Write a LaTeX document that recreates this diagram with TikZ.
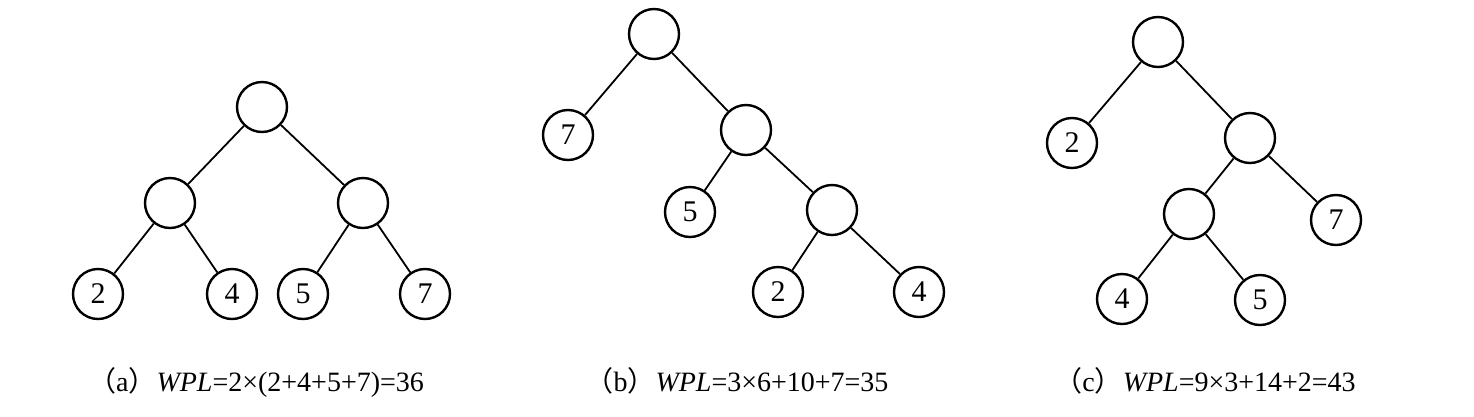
\documentclass[tikz,border=0pt]{standalone}
\usepackage{fontspec}
\setmainfont{Liberation Serif}
\newfontfamily\cjk{Noto Sans CJK SC}
\begin{document}
\begin{tikzpicture}[x=1pt, y=-1pt,
    nd/.style={circle, draw, line width=2.4pt, minimum size=50pt, inner sep=0pt, font=\fontsize{30}{32}\selectfont},
    edge/.style={line width=1.8pt},
    captxt/.style={font=\fontsize{28}{32}\selectfont, anchor=base}]
    \useasboundingbox (0,0) rectangle (1474,416);
    \node[nd] (ar) at (262,107) {};
    \node[nd] (al) at (170,203) {};
    \node[nd] (aR) at (363,203) {};
    \node[nd] (a2) at (98,294) {2};
    \node[nd] (a4) at (232,294) {4};
    \node[nd] (a5) at (303,294) {5};
    \node[nd] (a7) at (425,294) {7};
    \draw[edge] (ar)--(al);
    \draw[edge] (ar)--(aR);
    \draw[edge] (al)--(a2);
    \draw[edge] (al)--(a4);
    \draw[edge] (aR)--(a5);
    \draw[edge] (aR)--(a7);
    \node[nd] (br) at (654,34) {};
    \node[nd] (b7) at (568,135) {7};
    \node[nd] (b1) at (746,130) {};
    \node[nd] (b5) at (690,212) {5};
    \node[nd] (b3) at (832,210) {};
    \node[nd] (b2) at (778,292) {2};
    \node[nd] (b4) at (919,292) {4};
    \draw[edge] (br)--(b7);
    \draw[edge] (br)--(b1);
    \draw[edge] (b1)--(b5);
    \draw[edge] (b1)--(b3);
    \draw[edge] (b3)--(b2);
    \draw[edge] (b3)--(b4);
    \node[nd] (cr) at (1158,42) {};
    \node[nd] (c2) at (1072,143) {2};
    \node[nd] (c1) at (1250,138) {};
    \node[nd] (c3) at (1189,214) {};
    \node[nd] (c7) at (1336,220) {7};
    \node[nd] (c4) at (1122,299) {4};
    \node[nd] (c5) at (1260,300) {5};
    \draw[edge] (cr)--(c2);
    \draw[edge] (cr)--(c1);
    \draw[edge] (c1)--(c3);
    \draw[edge] (c1)--(c7);
    \draw[edge] (c3)--(c4);
    \draw[edge] (c3)--(c5);
    \node[captxt] (capa) at (256,391) {{\cjk（}a{\cjk）}\textit{WPL}=2×(2+4+5+7)=36};
    \node[captxt] (capb) at (737,391) {{\cjk（}b{\cjk）}\textit{WPL}=3×6+10+7=35};
    \node[captxt] (capc) at (1205,391) {{\cjk（}c{\cjk）}\textit{WPL}=9×3+14+2=43};
\end{tikzpicture}
\end{document}
